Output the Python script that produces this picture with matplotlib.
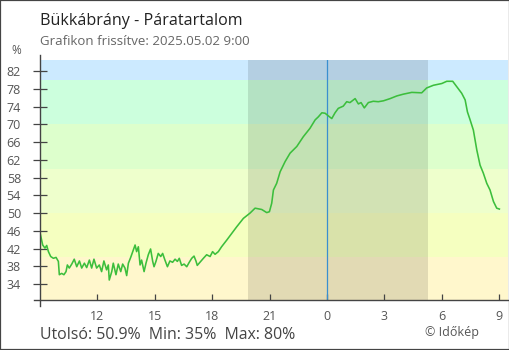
"""Bükkábrány páratartalom grafikon — Időkép stílus."""

import matplotlib
matplotlib.use("Agg")
import matplotlib.pyplot as plt
from matplotlib.patches import Rectangle

# idő: órák 9:00-tól (előző nap), 0..24
hours = [
    0.00, 0.14, 0.26, 0.35, 0.44, 0.56, 0.70, 0.84, 0.96, 1.01, 1.13, 1.25,
    1.36, 1.43, 1.53, 1.66, 1.79, 1.92, 2.06, 2.18, 2.32, 2.44, 2.58, 2.70,
    2.82, 2.96, 3.10, 3.22, 3.34, 3.48, 3.57, 3.62, 3.75, 3.83, 3.97, 4.09,
    4.22, 4.32, 4.44, 4.53, 4.62, 4.74, 4.88, 4.97, 5.05, 5.14, 5.23, 5.31,
    5.44, 5.54, 5.66, 5.78, 5.89, 5.96, 6.06, 6.18, 6.31, 6.41, 6.53, 6.66,
    6.79, 6.93, 7.06, 7.18, 7.28, 7.40, 7.53, 7.67, 7.80, 7.93, 8.05, 8.15,
    8.22, 8.36, 8.54, 8.71, 8.89, 9.02, 9.15, 9.32, 9.49, 9.76, 10.02, 10.28,
    10.63, 10.98, 11.24, 11.59, 11.85, 11.99, 12.11, 12.20, 12.37, 12.55, 12.81, 13.07,
    13.42, 13.76, 14.11, 14.38, 14.55, 14.73, 14.90, 15.07, 15.25, 15.42, 15.59, 15.85,
    16.03, 16.20, 16.47, 16.64, 16.78, 16.95, 17.16, 17.42, 17.68, 17.95, 18.30, 18.65,
    18.99, 19.43, 19.95, 20.21, 20.56, 21.00, 21.26, 21.57, 21.78, 22.04, 22.22, 22.34,
    22.48, 22.65, 22.83, 23.00, 23.17, 23.35, 23.52, 23.70, 23.87, 24.01,
]
humidity = [
    45.6, 42.8, 42.1, 42.7, 41.3, 40.2, 39.8, 40.0, 39.1, 36.1, 36.4, 36.1,
    36.8, 38.3, 37.6, 38.5, 39.6, 37.9, 39.2, 37.6, 38.7, 37.7, 39.4, 37.6,
    39.6, 37.6, 38.3, 36.8, 39.2, 37.2, 38.3, 34.9, 36.8, 38.7, 36.1, 38.5,
    36.8, 38.5, 37.6, 35.9, 38.7, 40.0, 41.7, 42.8, 41.3, 42.4, 38.3, 39.4,
    36.8, 38.7, 40.6, 41.9, 39.1, 37.9, 39.1, 40.9, 40.2, 40.9, 39.4, 37.9,
    39.2, 38.9, 39.6, 39.1, 39.8, 38.2, 38.5, 37.9, 38.9, 39.8, 40.3, 39.2,
    38.2, 38.9, 39.8, 40.6, 40.2, 41.3, 40.7, 41.3, 42.4, 43.9, 45.4, 46.9,
    48.8, 50.0, 51.1, 50.8, 50.1, 50.3, 52.2, 55.2, 56.7, 59.3, 61.6, 63.5,
    65.0, 67.2, 69.1, 71.0, 71.7, 72.6, 72.5, 71.9, 71.3, 72.6, 73.6, 74.1,
    75.1, 74.9, 75.8, 74.6, 74.9, 73.7, 74.9, 75.2, 75.1, 75.3, 75.8, 76.4,
    76.8, 77.2, 77.1, 78.2, 78.8, 79.2, 79.7, 79.7, 78.5, 77.0, 75.5, 72.8,
    71.0, 68.7, 64.2, 60.8, 59.0, 56.7, 55.2, 52.6, 51.1, 50.9,
]

xtick_pos = [3, 6, 9, 12, 15, 18, 21, 24]
xtick_labels = ["12", "15", "18", "21", "0", "3", "6", "9"]
ytick_vals = list(range(34, 83, 4))

band_edges = [0, 40, 50, 60, 70, 80, 100]
band_colors = ["#fff7cc", "#f5ffc0", "#eeffcc", "#ddffcc", "#ccffdd", "#cceaff"]

night_start, night_end = 10.87, 20.28
midnight = 15.0

plt.rcParams["font.family"] = ["Open Sans", "DejaVu Sans"]

fig = plt.figure(figsize=(5.1, 3.5), dpi=100)
W, H = 510, 350
ax = fig.add_axes([40 / W, 50 / H, 468 / W, 240 / H])

# háttérsávok
for lo, hi, c in zip(band_edges[:-1], band_edges[1:], band_colors):
    ax.axhspan(lo, hi, color=c, lw=0, zorder=0)
ax.axvspan(night_start, night_end, color="#000000", alpha=0.115, lw=0, zorder=1)
ax.axvline(midnight, color="#3a8fd0", lw=0.9, zorder=2)

ax.plot(hours, humidity, color="#3cbe3c", lw=1.15, zorder=3)

ax.set_xlim(0, 24.46)
ax.set_ylim(30.4, 84.5)
ax.set_xticks(xtick_pos)
ax.set_xticklabels(xtick_labels)
ax.set_yticks(ytick_vals)
ax.tick_params(axis="x", direction="in", length=4.3, width=0.9, color="#444444",
               pad=7, labelsize=9, labelcolor="#555555")
ax.tick_params(axis="y", direction="inout", length=9.4, width=0.9, color="#444444",
               pad=9, labelsize=9, labelcolor="#555555")
for s in ax.spines.values():
    s.set_visible(False)

# tengelyvonalak, kicsit túlnyúlva
ax.plot([0, 0], [-6 / 240, 1 + 5 / 240], transform=ax.transAxes, color="#444444",
        lw=1.0, clip_on=False, zorder=5)
ax.plot([-6 / 468, 1], [0, 0], transform=ax.transAxes, color="#444444",
        lw=1.0, clip_on=False, zorder=5)

# szövegek
fig.text(40 / W, 1 - 25 / H, "Bükkábrány - Páratartalom", fontsize=11.6,
         color="#222222", va="baseline")
fig.text(40 / W, 1 - 45 / H, "Grafikon frissítve: 2025.05.02 9:00", fontsize=9.5,
         color="#666666", va="baseline")
fig.text(16.5 / W, 1 - 54 / H, "%", fontsize=8.5, color="#555555", ha="center",
         va="baseline")
fig.text(40 / W, 1 - 339 / H, "Utolsó: 50.9%  Min: 35%  Max: 80%", fontsize=11.4,
         color="#444444", va="baseline")
fig.text(425 / W, 1 - 336 / H, "© Időkép", fontsize=9, color="#555555",
         va="baseline")

fig.patches.append(Rectangle((0, 0), 1, 1, transform=fig.transFigure, fill=False,
                             ec="#444444", lw=1.6))

fig.savefig("out.png", dpi=100)
